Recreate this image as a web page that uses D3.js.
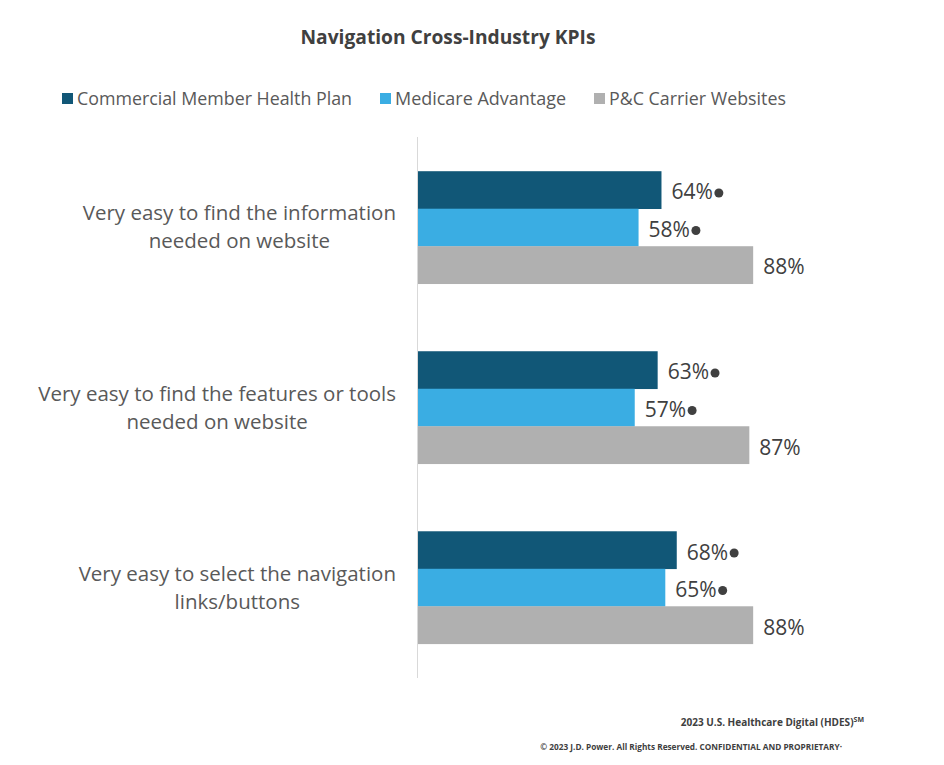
<!DOCTYPE html>
<html><head><meta charset="utf-8">
<script src="https://cdn.jsdelivr.net/npm/d3@7"></script>
<style>body{margin:0;background:#fff;}svg{display:block;}</style>
</head><body>
<svg id="c" width="944" height="765"></svg>
<script>
const categories = [
  ["Very easy to find the information", "needed on website"],
  ["Very easy to find the features or tools", "needed on website"],
  ["Very easy to select the navigation", "links/buttons"]
];
const seriesNames = ["Commercial Member Health Plan", "Medicare Advantage", "P&C Carrier Websites"];
const commercial = [64, 63, 68];
const medicare = [58, 57, 65];
const pc = [88, 87, 88];
const significant = [[true, true, true], [true, true, true], [false, false, false]];
const colors = ["#115777", "#3AADE3", "#B0B0B0"];
const series = [commercial, medicare, pc];

const svg = d3.select("#c");
const font = "'Open Sans', 'Noto Sans', sans-serif";

svg.append("text").attr("x", 448).attr("y", 44).attr("text-anchor", "middle")
  .attr("font-family", font).attr("font-weight", "bold").attr("font-size", 19.2)
  .attr("fill", "#404040").text("Navigation Cross-Industry KPIs");

// legend
const legX = [62, 380, 594];
const legW = [275, 171, 177];
seriesNames.forEach((n, i) => {
  svg.append("rect").attr("x", legX[i]).attr("y", 93).attr("width", 11).attr("height", 11).attr("fill", colors[i]);
  svg.append("text").attr("x", legX[i] + 15).attr("y", 104.5).attr("font-family", font)
    .attr("font-size", 19).attr("fill", "#595959")
    .attr("textLength", legW[i]).attr("lengthAdjust", "spacingAndGlyphs").text(n);
});

const x = d3.scaleLinear().domain([0, 100]).range([417, 799]);
const y0 = d3.scaleBand().domain(d3.range(categories.length)).range([137, 678]).paddingInner(0.375).paddingOuter(0.19);
const y1 = d3.scaleBand().domain(d3.range(series.length)).range([0, y0.bandwidth()]);

const g = svg.append("g");
categories.forEach((cat, ci) => {
  series.forEach((s, si) => {
    const yy = y0(ci) + y1(si);
    g.append("rect").attr("x", x(0)).attr("y", yy).attr("width", x(s[ci]) - x(0))
      .attr("height", y1.bandwidth() + 0.3).attr("fill", colors[si]);
    const t = g.append("text").attr("x", x(s[ci]) + 10).attr("y", yy + y1.bandwidth() / 2 + 9.5)
      .attr("font-family", font).attr("font-size", 21).attr("fill", "#404040").text(s[ci] + "%");
    if (significant[si][ci]) {
      const w = t.node().getComputedTextLength();
      g.append("circle").attr("cx", x(s[ci]) + 10 + w + 6).attr("cy", yy + y1.bandwidth() / 2 + 3)
        .attr("r", 4.5).attr("fill", "#404040");
    }
  });
  // category labels
  const cy = y0(ci) + y0.bandwidth() / 2;
  const lbl = svg.append("g");
  const texts = cat.map((line, li) => lbl.append("text").attr("y", cy + (li - 0.5) * 28 + 7)
    .attr("font-family", font).attr("font-size", 20.5).attr("fill", "#595959").attr("text-anchor", "middle").text(line));
  const maxW = d3.max(texts, t => t.node().getComputedTextLength());
  texts.forEach(t => t.attr("x", 396 - maxW / 2));
});

// axis line
svg.append("line").attr("x1", 417.5).attr("x2", 417.5).attr("y1", 137).attr("y2", 678)
  .attr("stroke", "#d9d9d9").attr("stroke-width", 1);

// footer
const f1 = svg.append("text").attr("x", 864).attr("y", 726).attr("text-anchor", "end")
  .attr("font-family", font).attr("font-weight", "bold").attr("font-size", 10).attr("fill", "#404040");
f1.append("tspan").text("2023 U.S. Healthcare Digital (HDES)");
f1.append("tspan").attr("font-size", 7).attr("dy", -4).text("SM");
svg.append("text").attr("x", 842).attr("y", 750).attr("text-anchor", "end")
  .attr("font-family", font).attr("font-weight", "bold").attr("font-size", 8.25).attr("fill", "#404040")
  .text("© 2023 J.D. Power. All Rights Reserved. CONFIDENTIAL AND PROPRIETARY·");
</script>
</body></html>
